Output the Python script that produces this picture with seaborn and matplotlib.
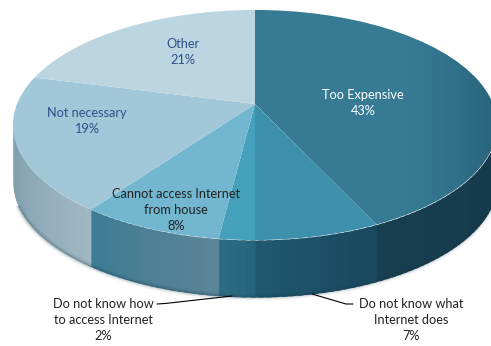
import numpy as np
import matplotlib.pyplot as plt
from matplotlib.transforms import Transform
import seaborn as sns

# data
labels = ['Too Expensive', 'Do not know what\nInternet does', 'Do not know how\nto access Internet',
          'Cannot access Internet\nfrom house', 'Not necessary', 'Other']
values = [43, 7, 2, 8, 19, 21]
top_colors = ['#367a94', '#3d90ac', '#45a1bb', '#72b6cf', '#a2c7d9', '#bbd6e0']
side_left = ['#173f50', '#1e586f', '#2c6c83', '#3d7c94', '#7a9aab', '#8aa6b4']
side_right = ['#14384a', '#18485e', '#28647b', '#5c8497', '#a0b7c3', '#8aa6b4']

# where the disc sits in the picture (pixels)
cx, cy = 255, 104
half_w, half_h, tilt = 238, 111.2, 0.1826
depth = 57

sns.set_theme(style='white')
plt.rcParams['font.family'] = ['Lato', 'DejaVu Sans']


def project(u, v):
    d = 1 + tilt * v
    return cx + half_w * u / d, cy - half_h * v / d


class Tilted(Transform):
    input_dims = 2
    output_dims = 2

    def transform_non_affine(self, values):
        x, y = project(values[:, 0], values[:, 1])
        return np.column_stack([x, y])


fig, ax = plt.subplots(figsize=(4.91, 3.46), dpi=100)

# soft shadow under the bottom rim
t = np.radians(np.linspace(112, 248, 120))
rim_x, rim_y = project(np.sin(t), np.cos(t))
for lw, alpha in [(5, 0.06), (3, 0.10), (1.5, 0.16)]:
    ax.plot(rim_x, rim_y + depth, color='#1a3a4a', lw=lw, alpha=alpha, solid_capstyle='butt')

# side wall, only the front part of the rim shows
edges = np.cumsum([0] + values) * 3.6
for i in range(len(values)):
    a0, a1 = max(edges[i], 100), min(edges[i + 1], 262)
    if a1 <= a0:
        continue
    n = max(int((a1 - a0) / 1.5), 2)
    pal = sns.blend_palette([side_right[i], side_left[i]], n)
    steps = np.linspace(a0, a1, n + 1)
    for j in range(n):
        # run each strip a bit under the next one so no seams show
        end = min(steps[j + 1] + 1.0, 262)
        t = np.radians(np.linspace(steps[j], end, 4))
        x, y = project(np.sin(t), np.cos(t))
        order = np.argsort(x)
        ax.fill_between(x[order], y[order], y[order] + depth, color=pal[j], lw=0)

# top face
wedges, _ = ax.pie(values, colors=top_colors, startangle=90, counterclock=False,
                   wedgeprops={'linewidth': 0})
for w in wedges:
    w.set_transform(Tilted() + ax.transData)

# the big slice gets darker towards its right edge
shade = np.zeros((1, 80, 4))
shade[..., :3] = np.array([0.10, 0.28, 0.36])
shade[..., 3] = np.linspace(0, 0.55, 80) ** 1.5
img = ax.imshow(shade, extent=(400, 491, 346, 0), aspect='auto', zorder=3)
img.set_clip_path(wedges[0])

ax.set_aspect('auto')
ax.set_xlim(0, 491)
ax.set_ylim(346, 0)
ax.set_position([0, 0, 1, 1])
ax.axis('off')

size = 9.2
navy = '#2f4f8a'
dark = '#222222'
txt = dict(fontsize=size, ha='center', va='center', linespacing=1.35, zorder=5)
ax.text(183, 52, 'Other\n21%', color=navy, **txt)
ax.text(87, 121, 'Not necessary\n19%', color=navy, **txt)
ax.text(363, 103, 'Too Expensive\n43%', color='white', **txt)
ax.text(176, 210, labels[3] + '\n8%', color=dark, **txt)
ax.text(103, 320, labels[2] + '\n2%', color=dark, **txt)
ax.text(411, 320, labels[1] + '\n7%', color=dark, **txt)

ax.plot([157, 165, 232], [304, 303.5, 296], color='black', lw=0.8)
ax.plot([312, 346, 353], [294, 304, 304], color='black', lw=0.8)

fig.savefig('out.png', dpi=100)
